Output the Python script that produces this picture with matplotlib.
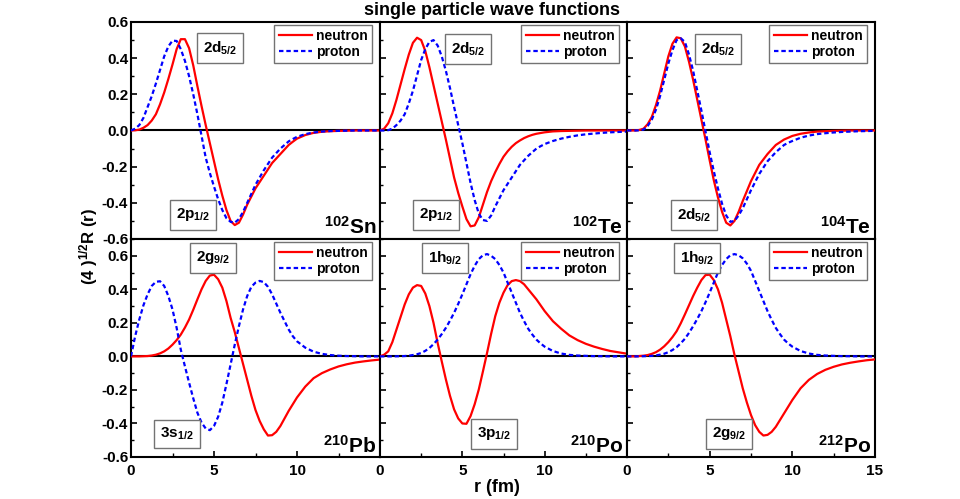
import numpy as np
import matplotlib
matplotlib.use("Agg")
import matplotlib.pyplot as plt
from matplotlib.ticker import MultipleLocator

plt.rcParams['font.family'] = ['Liberation Sans', 'DejaVu Sans']
plt.rcParams['font.weight'] = 'bold'
plt.rcParams['mathtext.fontset'] = 'custom'
plt.rcParams['mathtext.rm'] = 'Liberation Sans'
plt.rcParams['mathtext.bf'] = 'Liberation Sans:bold'
plt.rcParams['mathtext.it'] = 'Liberation Sans:italic'

# ---------------- data ----------------
# radius grid (fm): 0.25 steps to 10 fm, then 0.5 steps
r = [0.0, 0.25, 0.5, 0.75, 1.0, 1.25, 1.5, 1.75, 2.0, 2.25, 2.5, 2.75, 3.0, 3.25, 3.5, 3.75,
     4.0, 4.25, 4.5, 4.75, 5.0, 5.25, 5.5, 5.75, 6.0, 6.25, 6.5, 6.75, 7.0, 7.25, 7.5, 7.75,
     8.0, 8.25, 8.5, 8.75, 9.0, 9.25, 9.5, 9.75, 10.0,
     10.5, 11.0, 11.5, 12.0, 12.5, 13.0, 13.5, 14.0, 14.5, 15.0]

# 102Sn
sn102_n = [0.0, 0.001, 0.005, 0.015, 0.03, 0.055, 0.09, 0.145, 0.21, 0.285, 0.365, 0.45, 0.505, 0.505,
           0.455, 0.36, 0.245, 0.135, 0.03, -0.07, -0.17, -0.27, -0.36, -0.44, -0.50, -0.523, -0.51,
           -0.465, -0.41, -0.365, -0.32, -0.285, -0.25, -0.215, -0.18, -0.155, -0.13, -0.105,
           -0.08, -0.062, -0.045,
           -0.025, -0.013, -0.007, -0.004, -0.002, -0.001, 0.0, 0.0, 0.0, 0.0]
sn102_p = [0.0, 0.01, 0.03, 0.07, 0.13, 0.19, 0.26, 0.335, 0.41, 0.465, 0.497, 0.495, 0.45, 0.385,
           0.30, 0.20, 0.09, -0.03, -0.15, -0.235, -0.31, -0.38, -0.44, -0.485, -0.505, -0.51,
           -0.49, -0.45, -0.40, -0.35, -0.30, -0.26, -0.22, -0.185, -0.15, -0.125, -0.10, -0.08,
           -0.06, -0.047, -0.035,
           -0.02, -0.011, -0.006, -0.003, -0.002, -0.001, 0.0, 0.0, 0.0, 0.0]
# 102Te
te102_n = [0.0, 0.01, 0.04, 0.095, 0.17, 0.255, 0.34, 0.42, 0.485, 0.513, 0.50, 0.44, 0.35, 0.25,
           0.15, 0.05, -0.05, -0.155, -0.26, -0.345, -0.42, -0.49, -0.53, -0.525, -0.48, -0.41,
           -0.34, -0.28, -0.23, -0.185, -0.145, -0.115, -0.09, -0.07, -0.055, -0.042, -0.032,
           -0.024, -0.018, -0.014, -0.01,
           -0.005, -0.003, -0.002, -0.001, 0.0, 0.0, 0.0, 0.0, 0.0, 0.0]
te102_p = [0.0, 0.0, 0.002, 0.01, 0.03, 0.055, 0.09, 0.15, 0.22, 0.305, 0.39, 0.45, 0.49, 0.50,
           0.47, 0.41, 0.33, 0.235, 0.13, 0.03, -0.07, -0.18, -0.29, -0.385, -0.46, -0.495, -0.50,
           -0.47, -0.42, -0.375, -0.33, -0.295, -0.26, -0.225, -0.19, -0.165, -0.14, -0.12,
           -0.10, -0.087, -0.075,
           -0.058, -0.045, -0.035, -0.027, -0.021, -0.017, -0.013, -0.01, -0.008, -0.006]
# 104Te
te104_n = [0.0, 0.0, 0.0, 0.003, 0.01, 0.035, 0.075, 0.14, 0.22, 0.315, 0.41, 0.48, 0.515, 0.51,
           0.465, 0.38, 0.28, 0.17, 0.06, -0.05, -0.165, -0.275, -0.37, -0.45, -0.51, -0.525,
           -0.50, -0.45, -0.39, -0.335, -0.28, -0.235, -0.19, -0.16, -0.13, -0.105, -0.08,
           -0.065, -0.05, -0.04, -0.03,
           -0.018, -0.011, -0.006, -0.004, -0.002, -0.001, 0.0, 0.0, 0.0, 0.0]
te104_p = [0.0, 0.0, 0.0, 0.001, 0.005, 0.025, 0.06, 0.115, 0.19, 0.28, 0.37, 0.445, 0.50, 0.51,
           0.49, 0.42, 0.33, 0.22, 0.11, -0.005, -0.12, -0.225, -0.32, -0.405, -0.47, -0.505,
           -0.50, -0.47, -0.43, -0.38, -0.33, -0.285, -0.24, -0.205, -0.17, -0.145, -0.12,
           -0.10, -0.08, -0.068, -0.058,
           -0.04, -0.028, -0.02, -0.015, -0.011, -0.008, -0.006, -0.004, -0.003, -0.002]
# 210Pb
pb210_n = [0.0, 0.0, 0.0, 0.001, 0.002, 0.005, 0.01, 0.018, 0.03, 0.047, 0.07, 0.097, 0.13, 0.172,
           0.22, 0.278, 0.34, 0.40, 0.45, 0.482, 0.487, 0.46, 0.41, 0.33, 0.23, 0.145, 0.05,
           -0.045, -0.14, -0.235, -0.32, -0.385, -0.435, -0.472, -0.47, -0.45, -0.415, -0.37,
           -0.325, -0.285, -0.245,
           -0.18, -0.13, -0.10, -0.078, -0.06, -0.047, -0.037, -0.03, -0.024, -0.019]
pb210_p = [0.0, 0.12, 0.22, 0.305, 0.37, 0.42, 0.445, 0.448, 0.42, 0.36, 0.28, 0.17, 0.04, -0.06,
           -0.157, -0.25, -0.336, -0.395, -0.43, -0.44, -0.415, -0.36, -0.276, -0.165, -0.048,
           0.07, 0.18, 0.28, 0.36, 0.415, 0.44, 0.45, 0.443, 0.415, 0.37, 0.315, 0.26, 0.21,
           0.16, 0.12, 0.09,
           0.052, 0.028, 0.015, 0.008, 0.004, 0.002, 0.001, 0.0, 0.0, 0.0]
# 210Po
po210_n = [0.0, 0.01, 0.03, 0.085, 0.16, 0.235, 0.31, 0.37, 0.41, 0.425, 0.42, 0.375, 0.30, 0.20,
           0.08, -0.03, -0.137, -0.235, -0.316, -0.37, -0.40, -0.402, -0.356, -0.285, -0.197,
           -0.09, 0.02, 0.135, 0.24, 0.32, 0.38, 0.425, 0.449, 0.455, 0.449, 0.43, 0.40, 0.37,
           0.34, 0.305, 0.27,
           0.21, 0.165, 0.125, 0.097, 0.075, 0.058, 0.044, 0.032, 0.024, 0.016]
po210_p = [0.0, 0.0, 0.0, 0.0, 0.0005, 0.001, 0.002, 0.004, 0.008, 0.013, 0.02, 0.033, 0.05, 0.073,
           0.10, 0.133, 0.17, 0.213, 0.26, 0.313, 0.37, 0.43, 0.49, 0.54, 0.58, 0.603, 0.61, 0.60,
           0.58, 0.545, 0.50, 0.44, 0.38, 0.32, 0.26, 0.21, 0.165, 0.13, 0.10, 0.077, 0.058,
           0.032, 0.017, 0.009, 0.005, 0.003, 0.0015, 0.001, 0.0, 0.0, 0.0]
# 212Po
po212_n = [0.0, 0.0, 0.0, 0.002, 0.004, 0.008, 0.015, 0.025, 0.04, 0.06, 0.085, 0.115, 0.15, 0.197,
           0.25, 0.305, 0.36, 0.41, 0.455, 0.485, 0.487, 0.455, 0.40, 0.32, 0.22, 0.12, 0.01,
           -0.09, -0.19, -0.275, -0.35, -0.41, -0.45, -0.472, -0.468, -0.45, -0.42, -0.38,
           -0.34, -0.30, -0.26,
           -0.19, -0.14, -0.105, -0.08, -0.062, -0.048, -0.038, -0.03, -0.023, -0.018]
po212_p = [0.0, 0.0, 0.0, 0.0, 0.001, 0.002, 0.003, 0.006, 0.01, 0.016, 0.025, 0.038, 0.055, 0.078,
           0.105, 0.14, 0.18, 0.223, 0.27, 0.323, 0.38, 0.44, 0.50, 0.545, 0.58, 0.603, 0.61,
           0.603, 0.585, 0.553, 0.51, 0.45, 0.39, 0.33, 0.27, 0.218, 0.17, 0.133, 0.10, 0.077,
           0.058,
           0.032, 0.017, 0.009, 0.005, 0.003, 0.0015, 0.001, 0.0, 0.0, 0.0]

neutron_series = [sn102_n, te102_n, te104_n, pb210_n, po210_n, po212_n]
proton_series = [sn102_p, te102_p, te104_p, pb210_p, po210_p, po212_p]
nuclei = [("102", "Sn"), ("102", "Te"), ("104", "Te"), ("210", "Pb"), ("210", "Po"), ("212", "Po")]
upper_labels = [("2d", "5/2"), ("2d", "5/2"), ("2d", "5/2"), ("2g", "9/2"), ("1h", "9/2"), ("1h", "9/2")]
lower_labels = [("2p", "1/2"), ("2p", "1/2"), ("2d", "5/2"), ("3s", "1/2"), ("3p", "1/2"), ("2g", "9/2")]
xtick_vals = [0, 5, 10, 15]
ytick_vals = [-0.6, -0.4, -0.2, 0.0, 0.2, 0.4, 0.6]

# ---------------- layout ----------------
W, H = 960, 499
fig = plt.figure(figsize=(W / 100, H / 100), dpi=100)
xs = [131, 380, 627, 875]
ys = [22, 239, 457]

upper_pos = [(0.357, 0.880), (0.356, 0.876), (0.367, 0.876), (0.329, 0.913), (0.263, 0.913), (0.282, 0.913)]
lower_pos = [(0.249, 0.111), (0.226, 0.111), (0.270, 0.111), (0.185, 0.106), (0.462, 0.106), (0.411, 0.106)]

box = dict(boxstyle="square,pad=0.4", fc="white", ec="0.45", lw=1.0)

for i in range(6):
    row, col = divmod(i, 3)
    x0, x1 = xs[col], xs[col + 1]
    y0, y1 = ys[row], ys[row + 1]
    ax = fig.add_axes([x0 / W, 1 - y1 / H, (x1 - x0) / W, (y1 - y0) / H])
    ax.plot(r, neutron_series[i], color="#ff0000", lw=1.6, label="neutron", zorder=3)
    ax.plot(r, proton_series[i], color="#0000ff", lw=1.6, ls=(0, (2.0, 1.3)), label="proton", zorder=3)
    ax.axhline(0, color="black", lw=1.5, zorder=2)
    ax.set_xlim(0, 15)
    ax.set_ylim(-0.6, 0.6 if row == 0 else 0.7)
    for s in ax.spines.values():
        s.set_linewidth(1.5)
    ax.set_yticks(ytick_vals)
    ax.yaxis.set_minor_locator(MultipleLocator(0.1))
    ax.tick_params(axis="y", which="both", direction="in", left=True, right=False,
                   labelsize=11, pad=2)
    ax.tick_params(axis="y", which="major", length=4, width=1.2)
    ax.tick_params(axis="y", which="minor", length=2.5, width=1.0)
    if col == 0:
        ax.set_yticklabels(["%.1f" % v for v in ytick_vals], fontweight="bold")
    else:
        ax.set_yticklabels([])
    ax.set_xticks(xtick_vals)
    if row == 1:
        ax.xaxis.set_minor_locator(MultipleLocator(2.5))
        ax.tick_params(axis="x", which="both", direction="in", bottom=True, top=False,
                       labelsize=11, pad=5)
        ax.tick_params(axis="x", which="major", length=4, width=1.2)
        ax.tick_params(axis="x", which="minor", length=3, width=1.0)
        labs = [str(v) for v in xtick_vals]
        if col < 2:
            labs[-1] = ""
        ax.set_xticklabels(labs, fontweight="bold")
    else:
        ax.tick_params(axis="x", which="both", bottom=False, top=False, labelbottom=False)

    ux, uy = upper_pos[i]
    lx, ly = lower_pos[i]
    ax.text(ux, uy, upper_labels[i][0] + r"$_{\mathbf{%s}}$" % upper_labels[i][1],
            transform=ax.transAxes, ha="center", va="center", fontsize=11,
            fontweight="bold", bbox=box, zorder=5)
    ax.text(lx, ly, lower_labels[i][0] + r"$_{\mathbf{%s}}$" % lower_labels[i][1],
            transform=ax.transAxes, ha="center", va="center", fontsize=11,
            fontweight="bold", bbox=box, zorder=5)
    ax.text(0.985, 0.025 if row == 0 else 0.02,
            r"$^{\mathbf{%s}}$" % nuclei[i][0] + nuclei[i][1],
            transform=ax.transAxes, ha="right", va="baseline", fontsize=15,
            fontweight="bold", zorder=5)
    leg = ax.legend(loc="upper right", bbox_to_anchor=(1 - 8 / (x1 - x0), 1 - 3 / (y1 - y0)),
                    borderaxespad=0, handlelength=2.4, handletextpad=0.3,
                    borderpad=0.3, labelspacing=0.15, fancybox=False, framealpha=1,
                    prop={"weight": "bold", "size": 10})
    leg.get_frame().set_edgecolor("0.45")
    leg.get_frame().set_linewidth(1.0)

fig.text(492 / W, 1 - 15 / H, "single particle wave functions", ha="center", va="baseline",
         fontsize=13, fontweight="bold")
fig.text(497 / W, 1 - 488 / H, "r (fm)", ha="center", va="center", fontsize=13, fontweight="bold")
fig.text(89 / W, 1 - 246 / H, r"(4 )$^{\mathregular{1/2}}$R (r)", ha="center", va="center",
         rotation=90, fontsize=12, fontweight="bold")

fig.savefig("out.png", dpi=100)
